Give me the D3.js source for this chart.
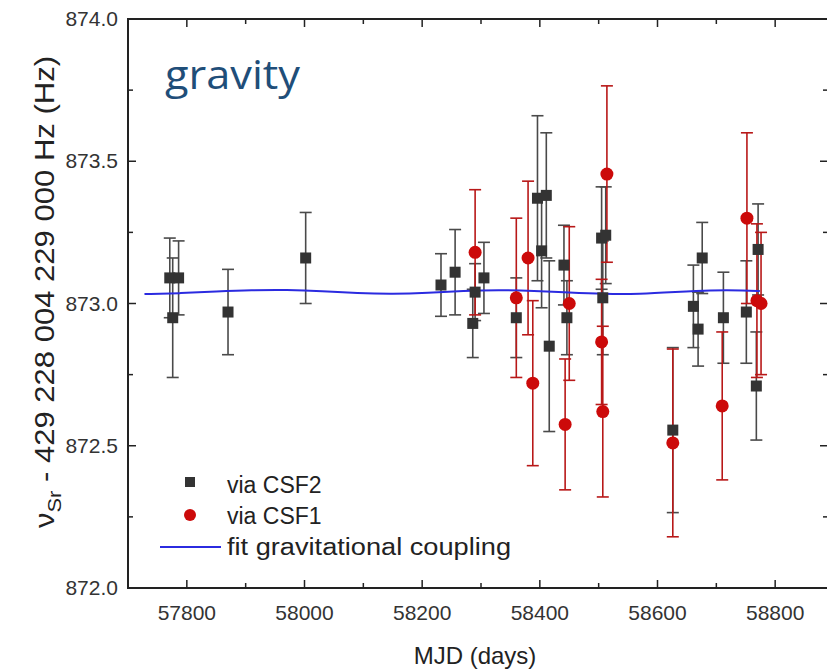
<!DOCTYPE html>
<html>
<head>
<meta charset="utf-8">
<script src="https://cdn.jsdelivr.net/npm/d3@7"></script>
<style>
  body { margin: 0; background: #fff; }
  svg { display: block; }
</style>
</head>
<body>
<div id="chart"></div>
<script>
// MJD, value (Hz offset) and error for clock comparisons via CSF2
var csf2Mjd = [57771, 57786, 57776, 57870, 58002, 58232, 58256, 58286, 58290, 58305,
               58360, 58396, 58411, 58403, 58416, 58441, 58446, 58505, 58512, 58507,
               58626, 58661, 58669, 58676, 58712, 58751, 58771, 58768];
var csf2Val = [873.09, 873.09, 872.95, 872.97, 873.16, 873.065, 873.11, 872.93, 873.04, 873.09,
               872.95, 873.37, 873.38, 873.185, 872.85, 873.135, 872.95, 873.23, 873.24, 873.02,
               872.555, 872.99, 872.91, 873.16, 872.95, 872.97, 873.19, 872.71];
var csf2Err = [0.14, 0.13, 0.21, 0.15, 0.16, 0.11, 0.15, 0.12, 0.10, 0.125,
               0.14, 0.29, 0.22, 0.20, 0.30, 0.14, 0.13, 0.18, 0.17, 0.20,
               0.29, 0.145, 0.13, 0.125, 0.16, 0.18, 0.16, 0.19];

// same for CSF1
var csf1Mjd = [58290, 58360, 58380, 58388, 58443, 58450, 58514, 58505, 58507, 58626,
               58710, 58752, 58769, 58776];
var csf1Val = [873.18, 873.02, 873.16, 872.72, 872.575, 873.0, 873.455, 872.865, 872.62, 872.51,
               872.64, 873.30, 873.01, 873.0];
var csf1Err = [0.22, 0.28, 0.27, 0.29, 0.23, 0.27, 0.31, 0.22, 0.30, 0.33,
               0.26, 0.30, 0.27, 0.25];

// fit of gravitational coupling
var fitMjd = [57728, 57790, 57850, 57910, 57970, 58030, 58090, 58150, 58210, 58270,
              58330, 58390, 58450, 58510, 58570, 58630, 58690, 58750, 58774];
var fitVal = [873.033, 873.036, 873.042, 873.047, 873.048, 873.044, 873.036, 873.033, 873.037, 873.045,
              873.048, 873.045, 873.038, 873.033, 873.033, 873.040, 873.047, 873.046, 873.044];

var xTicks = [57800, 58000, 58200, 58400, 58600, 58800];
var yTicks = [872.0, 872.5, 873.0, 873.5, 874.0];

var W = 827, H = 670;
var pLeft = 128, pRight = 834, pTop = 19, pBottom = 588;
var frameRight = 829; // right frame sits just outside the cropped picture

var svg = d3.select("#chart").append("svg")
    .attr("width", W)
    .attr("height", H);

var x = d3.scaleLinear().domain([57700, 58900]).range([pLeft, pRight]);
var y = d3.scaleLinear().domain([872, 874]).range([pBottom, pTop]);

var font = "'Liberation Sans', Arial, sans-serif";

// ticks inside the frame, on all four sides
var minorX = d3.range(57700, 58901, 100);
var minorY = d3.range(872, 874.001, 0.25);

var ticks = svg.append("g").attr("stroke", "#222").attr("stroke-width", 1.5);
minorX.forEach(function(d) {
    var len = xTicks.indexOf(d) >= 0 ? 8 : 5;
    ticks.append("line").attr("x1", x(d)).attr("x2", x(d)).attr("y1", pBottom).attr("y2", pBottom - len);
    ticks.append("line").attr("x1", x(d)).attr("x2", x(d)).attr("y1", pTop).attr("y2", pTop + len);
});
minorY.forEach(function(d) {
    var major = Math.abs(d * 2 - Math.round(d * 2)) < 1e-6;
    var len = major ? 8 : 5;
    ticks.append("line").attr("x1", pLeft).attr("x2", pLeft + len).attr("y1", y(d)).attr("y2", y(d));
    ticks.append("line").attr("x1", frameRight).attr("x2", frameRight - len - 1).attr("y1", y(d)).attr("y2", y(d));
});

// frame
svg.append("rect")
    .attr("x", pLeft).attr("y", pTop)
    .attr("width", frameRight - pLeft).attr("height", pBottom - pTop)
    .attr("fill", "none").attr("stroke", "#222").attr("stroke-width", 2);

// tick labels
svg.append("g").selectAll("text")
    .data(xTicks).enter().append("text")
    .attr("x", function(d) { return x(d); })
    .attr("y", 620)
    .attr("text-anchor", "middle")
    .attr("font-family", font).attr("font-size", 21).attr("fill", "#333")
    .text(function(d) { return d; });

svg.append("g").selectAll("text")
    .data(yTicks).enter().append("text")
    .attr("x", 118)
    .attr("y", function(d) { return y(d) + 7; })
    .attr("text-anchor", "end")
    .attr("font-family", font).attr("font-size", 21).attr("fill", "#333")
    .text(function(d) { return d.toFixed(1); });

// axis titles
svg.append("text")
    .attr("x", 475).attr("y", 664)
    .attr("text-anchor", "middle")
    .attr("font-family", font).attr("font-size", 24).attr("fill", "#222")
    .text("MJD (days)");

var yt = svg.append("text")
    .attr("transform", "translate(54," + 292 + ") rotate(-90)")
    .attr("text-anchor", "middle")
    .attr("textLength", 472)
    .attr("lengthAdjust", "spacingAndGlyphs")
    .attr("font-family", font).attr("font-size", 27).attr("fill", "#222");
yt.append("tspan").text("ν");
yt.append("tspan").attr("font-size", 19).attr("dy", 7).text("Sr");
yt.append("tspan").attr("dy", -7).text(" - 429 228 004 229 000 Hz (Hz)");

// fit line
var line = d3.line()
    .x(function(d, i) { return x(fitMjd[i]); })
    .y(function(d, i) { return y(fitVal[i]); })
    .curve(d3.curveBasis);

// error bars
function errBars(g, mjd, val, err) {
    mjd.forEach(function(d, i) {
        var cx = x(d), y0 = y(val[i] - err[i]), y1 = y(val[i] + err[i]);
        g.append("line").attr("x1", cx).attr("x2", cx).attr("y1", y0).attr("y2", y1);
        g.append("line").attr("x1", cx - 6).attr("x2", cx + 6).attr("y1", y0).attr("y2", y0);
        g.append("line").attr("x1", cx - 6).attr("x2", cx + 6).attr("y1", y1).attr("y2", y1);
    });
}

var g2 = svg.append("g").attr("stroke", "#4a4a4a").attr("stroke-width", 1.6);
errBars(g2, csf2Mjd, csf2Val, csf2Err);
var g1 = svg.append("g").attr("stroke", "#b81818").attr("stroke-width", 1.6);
errBars(g1, csf1Mjd, csf1Val, csf1Err);

svg.append("path")
    .attr("d", line(fitMjd))
    .attr("fill", "none")
    .attr("stroke", "#2b2be0")
    .attr("stroke-width", 2);

// markers
svg.append("g").selectAll("rect")
    .data(csf2Mjd).enter().append("rect")
    .attr("x", function(d) { return x(d) - 5.5; })
    .attr("y", function(d, i) { return y(csf2Val[i]) - 5.5; })
    .attr("width", 11).attr("height", 11)
    .attr("fill", "#333");

svg.append("g").selectAll("circle")
    .data(csf1Mjd).enter().append("circle")
    .attr("cx", function(d) { return x(d); })
    .attr("cy", function(d, i) { return y(csf1Val[i]); })
    .attr("r", 6.5)
    .attr("fill", "#cc0a0a");

// legend
var lg = svg.append("g").attr("font-family", font).attr("font-size", 23).attr("fill", "#222");
lg.append("rect").attr("x", 185).attr("y", 477).attr("width", 10).attr("height", 10).attr("fill", "#333");
lg.append("text").attr("x", 227).attr("y", 493).text("via CSF2");
lg.append("circle").attr("cx", 190).attr("cy", 515).attr("r", 6).attr("fill", "#cc0a0a");
lg.append("text").attr("x", 227).attr("y", 524).text("via CSF1");
lg.append("line").attr("x1", 160).attr("x2", 221).attr("y1", 547).attr("y2", 547)
    .attr("stroke", "#2b2be0").attr("stroke-width", 2);
lg.append("text").attr("x", 227).attr("y", 555)
    .attr("textLength", 284).attr("lengthAdjust", "spacingAndGlyphs")
    .text("fit gravitational coupling");

// label
svg.append("text")
    .attr("x", 165).attr("y", 89)
    .attr("font-family", "'Open Sans', 'Noto Sans', sans-serif")
    .attr("font-size", 41)
    .attr("textLength", 135)
    .attr("lengthAdjust", "spacingAndGlyphs")
    .attr("fill", "#1f4e79")
    .text("gravity");
</script>
</body>
</html>
